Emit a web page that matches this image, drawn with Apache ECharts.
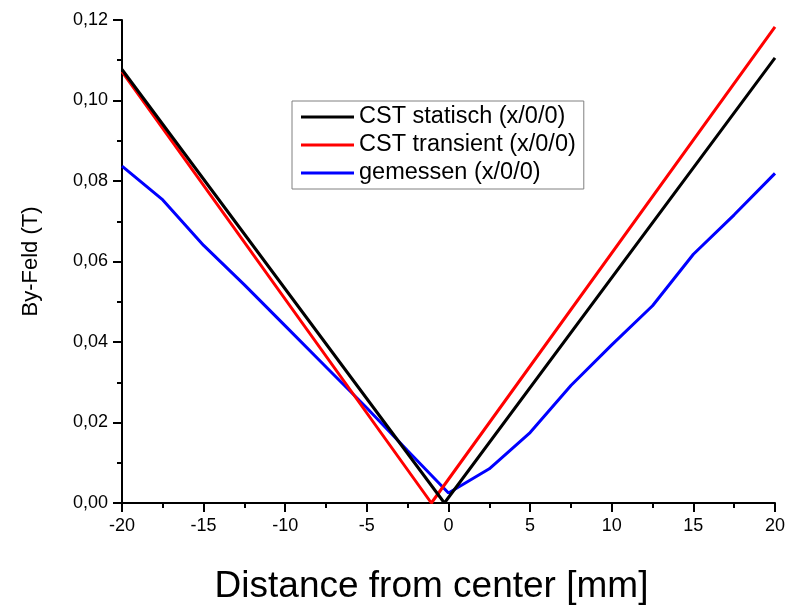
<!DOCTYPE html>
<html>
<head>
<meta charset="utf-8">
<script src="https://cdn.jsdelivr.net/npm/echarts@6/dist/echarts.min.js"></script>
<style>
  html, body { margin: 0; padding: 0; background: #fff; }
  #chart { width: 788px; height: 610px; }
</style>
</head>
<body>
<div id="chart"></div>
<script>
// Field profile along x, y = z = 0
const seriesNames = ['CST statisch (x/0/0)', 'CST transient (x/0/0)', 'gemessen (x/0/0)'];

// [distance mm, By T]
const cstStatisch = [[-20, 0.1077], [-0.25, 0.0], [20, 0.1106]];
const cstTransient = [[-20, 0.1072], [-1.05, 0.0], [20, 0.1183]];
const gemessenX = [-20, -17.5, -15, -12.5, -10, -7.5, -5, -2.5, 0, 2.5, 5, 7.5, 10, 12.5, 15, 17.5, 20];
const gemessenY = [0.0837, 0.0753, 0.0640, 0.0542, 0.0440, 0.0338, 0.0236, 0.0130, 0.0025,
                   0.0085, 0.0175, 0.0292, 0.0393, 0.0490, 0.0618, 0.0716, 0.0819];

const xTicks = [-20, -15, -10, -5, 0, 5, 10, 15, 20];
const yTicks = [0, 0.02, 0.04, 0.06, 0.08, 0.10, 0.12];

const colors = ['#000000', '#ff0000', '#0000ff'];
const font = 'Arial, "Liberation Sans", sans-serif';

const chart = echarts.init(document.getElementById('chart'), null, { renderer: 'canvas' });

const axisCommon = {
  axisLine: { onZero: false, lineStyle: { color: '#000', width: 2 } },
  axisTick: { inside: false, length: 9, lineStyle: { color: '#000', width: 2 } },
  minorTick: { show: true, splitNumber: 2, length: 5, lineStyle: { color: '#000', width: 2 } },
  splitLine: { show: false },
  minorSplitLine: { show: false }
};

chart.setOption({
  animation: false,
  backgroundColor: '#fff',
  grid: { left: 122, right: 10, top: 20, bottom: 102, containLabel: false },
  legend: {
    orient: 'vertical',
    left: 292,
    top: 101,
    padding: [4, 8, 4, 9],
    itemGap: 4,
    itemWidth: 53,
    itemHeight: 3,
    icon: 'rect',
    borderColor: '#808080',
    borderWidth: 1,
    textStyle: { fontFamily: font, fontSize: 23.5, color: '#000' },
    data: seriesNames
  },
  xAxis: Object.assign({
    type: 'value',
    min: xTicks[0],
    max: xTicks[xTicks.length - 1],
    interval: 5,
    name: 'Distance from center [mm]',
    nameLocation: 'middle',
    nameGap: 65,
    nameTextStyle: { fontFamily: font, fontSize: 37, color: '#000', padding: [0, 34, 0, 0] },
    axisLabel: { margin: 14, fontFamily: font, fontSize: 18, color: '#000' }
  }, axisCommon),
  yAxis: Object.assign({
    type: 'value',
    min: yTicks[0],
    max: yTicks[yTicks.length - 1],
    interval: 0.02,
    name: 'By-Feld (T)',
    nameLocation: 'middle',
    nameRotate: 90,
    nameGap: 80,
    nameTextStyle: { fontFamily: font, fontSize: 22, color: '#000' },
    axisLabel: {
      margin: 14, fontFamily: font, fontSize: 18, color: '#000',
      formatter: v => v.toFixed(2).replace('.', ',')
    }
  }, axisCommon),
  series: [
    { name: seriesNames[0], data: cstStatisch },
    { name: seriesNames[1], data: cstTransient },
    { name: seriesNames[2], data: gemessenX.map((x, i) => [x, gemessenY[i]]) }
  ].map((s, i) => Object.assign({
    type: 'line',
    showSymbol: false,
    symbol: 'none',
    color: colors[i],
    lineStyle: { color: colors[i], width: 3 },
    z: 3 - i
  }, s))
});
</script>
</body>
</html>
